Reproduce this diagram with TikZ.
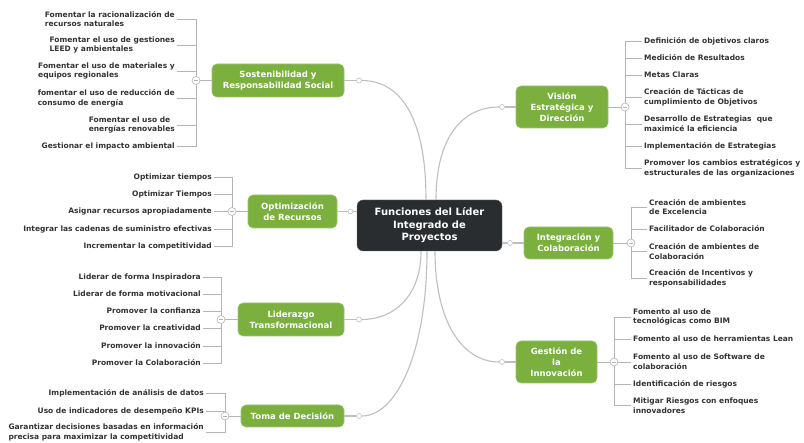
\documentclass[tikz,border=0pt]{standalone}
\usepackage{fontspec}
\setmainfont{DejaVu Sans}
\usetikzlibrary{calc}

\definecolor{leafgreen}{HTML}{7BB03F}
\definecolor{hubdark}{HTML}{2A2D30}
\definecolor{linkgray}{HTML}{BFBFBF}
\definecolor{twiggray}{HTML}{B4B4B4}
\definecolor{inkgray}{HTML}{333333}

\tikzset{
  hub/.style={fill=hubdark, draw=hubdark!70!white, rounded corners=6pt, text=white,
    font=\bfseries\fontsize{10}{12.5}\selectfont, align=center, inner sep=0pt},
  branch/.style={fill=leafgreen, draw=leafgreen!75!white, line width=0.6pt, rounded corners=5pt,
    text=white, font=\bfseries\fontsize{8.5}{10.8}\selectfont, align=center, inner sep=0pt,
    minimum height=33pt},
  knob/.style={circle, draw=linkgray, fill=white, inner sep=0pt, minimum size=5pt, line width=0.6pt},
  fold/.style={circle, draw=twiggray, fill=white, inner sep=0pt, minimum size=8pt, line width=0.6pt,
    path picture={\draw[twiggray, line width=0.8pt]
      ([xshift=-2pt]path picture bounding box.center) -- ([xshift=2pt]path picture bounding box.center);}},
  link/.style={draw=linkgray, line width=1.1pt},
  twig/.style={draw=twiggray, line width=0.8pt},
  leafL/.style={anchor=east, align=left, text=inkgray, font=\bfseries\fontsize{7.5}{9.8}\selectfont, inner sep=2pt},
  leafR/.style={leafL, anchor=west},
}

\begin{document}
\begin{tikzpicture}[x=1pt,y=-1pt]
\useasboundingbox[fill=white] (0,0) rectangle (804,443);

% centre
\node[hub, minimum width=145pt, minimum height=51pt] (hub) at (429.5,225.5) {Funciones del Líder\\Integrado de\\Proyectos};

% branch boxes
\node[branch, minimum width=132pt] (sost) at (278,80.5) {Sostenibilidad y\\Responsabilidad Social};
\node[branch, minimum width=89pt] (optim) at (292.5,211.5) {Optimización\\de Recursos};
\node[branch, minimum width=106pt] (lider) at (291,319.5) {Liderazgo\\Transformacional};
\node[branch, minimum width=103pt, minimum height=22pt] (toma) at (292.5,416) {Toma de Decisión};
\node[branch, minimum width=92pt, minimum height=42pt] (vis) at (562,107) {Visión\\Estratégica y\\Dirección};
\node[branch, minimum width=89pt, minimum height=32pt] (integ) at (568.5,243) {Integración y\\Colaboración};
\node[branch, minimum width=81pt, minimum height=42pt] (gest) at (556.5,362) {Gestión de\\la\\Innovación};

% links from the centre
\node[knob] (sost-k) at (359,80.5) {};
\node[knob] (optim-k) at (350.5,211.5) {};
\node[knob] (lider-k) at (359,319.5) {};
\node[knob] (toma-k) at (359,416) {};
\node[knob] (vis-k) at (502,107) {};
\node[knob] (integ-k) at (510,243) {};
\node[knob] (gest-k) at (502,362) {};

\draw[link] ([xshift=-3.5pt]hub.north) .. controls +(0,-85) and +(40,0) .. (sost-k);
\draw[link] ([xshift=6.5pt]hub.north) .. controls +(0,-65) and +(-38,0) .. (vis-k);
\draw[link] ([xshift=-8.5pt]hub.south) .. controls +(0,45) and +(35,0) .. (lider-k);
\draw[link] ([xshift=-2.5pt]hub.south) .. controls +(0,100) and +(38,0) .. (toma-k);
\draw[link] ([xshift=5.5pt]hub.south) .. controls +(0,70) and +(-40,0) .. (gest-k);
\draw[link] (hub.west |- optim-k) -- (optim-k);
\draw[link] (hub.east |- integ-k) -- (integ-k);
\foreach \b in {sost,optim,lider,toma,vis,integ,gest}
  \draw[link] (\b-k) -- (\b);

% Sostenibilidad
\coordinate (sost-j) at (196,80.5);
\draw[twig] (sost-j) -- (sost);
\foreach \y/\t [count=\i] in {19/{Fomentar la racionalización de\\recursos naturales},
    45/{Fomentar el uso de gestiones\\LEED y ambientales},
    71/{Fomentar el uso de materiales y\\equipos regionales},
    98/{fomentar el uso de reducción de\\consumo de energía},
    125/{Fomentar el uso de\\energías renovables},
    146/{Gestionar el impacto ambiental}} {
  \node[leafL] (sost-\i) at (177,\y) {\t};
  \draw[twig] (sost-\i.east) -- (sost-\i.east -| sost-j) -- (sost-j);
}
\node[fold] at (sost-j) {};

% Optimizacion
\coordinate (optim-j) at (232,211.5);
\draw[twig] (optim-j) -- (optim);
\foreach \y/\t [count=\i] in {177/{Optimizar tiempos},
    194/{Optimizar Tiempos},
    211/{Asignar recursos apropiadamente},
    229/{Integrar las cadenas de suministro efectivas},
    246/{Incrementar la competitividad}} {
  \node[leafL] (optim-\i) at (214,\y) {\t};
  \draw[twig] (optim-\i.east) -- (optim-\i.east -| optim-j) -- (optim-j);
}
\node[fold] at (optim-j) {};

% Liderazgo
\coordinate (lider-j) at (221,319.5);
\draw[twig] (lider-j) -- (lider);
\foreach \y/\t [count=\i] in {277/{Liderar de forma Inspiradora},
    294/{Liderar de forma motivacional},
    311/{Promover la confianza},
    328/{Promover la creatividad},
    346/{Promover la innovación},
    363/{Promover la Colaboración}} {
  \node[leafL] (lider-\i) at (203,\y) {\t};
  \draw[twig] (lider-\i.east) -- (lider-\i.east -| lider-j) -- (lider-j);
}
\node[fold] at (lider-j) {};

% Toma de decision
\coordinate (toma-j) at (225,416);
\draw[twig] (toma-j) -- (toma);
\foreach \y/\t [count=\i] in {393/{Implementación de análisis de datos},
    411/{Uso de indicadores de desempeño KPIs},
    432/{Garantizar decisiones basadas en información\\precisa para maximizar la competitividad}} {
  \node[leafL] (toma-\i) at (206,\y) {\t};
  \draw[twig] (toma-\i.east) -- (toma-\i.east -| toma-j) -- (toma-j);
}
\node[fold] at (toma-j) {};

% Vision
\coordinate (vis-j) at (625,107);
\draw[twig] (vis-j) -- (vis);
\foreach \y/\t [count=\i] in {41/{Definición de objetivos claros},
    58/{Medición de Resultados},
    75/{Metas Claras},
    97/{Creación de Tácticas de\\cumplimiento de Objetivos},
    124/{Desarrollo de Estrategias~ que\\maximicé la eficiencia},
    146/{Implementación de Estrategias},
    168/{Promover los cambios estratégicos y\\estructurales de las organizaciones}} {
  \node[leafR] (vis-\i) at (642,\y) {\t};
  \draw[twig] (vis-\i.west) -- (vis-\i.west -| vis-j) -- (vis-j);
}
\node[fold] at (vis-j) {};

% Integracion
\coordinate (integ-j) at (631,243);
\draw[twig] (integ-j) -- (integ);
\foreach \y/\t [count=\i] in {207/{Creación de ambientes\\de Excelencia},
    229/{Facilitador de Colaboración},
    251.5/{Creación de ambientes de\\Colaboración},
    278/{Creación de Incentivos y\\responsabilidades}} {
  \node[leafR] (integ-\i) at (647,\y) {\t};
  \draw[twig] (integ-\i.west) -- (integ-\i.west -| integ-j) -- (integ-j);
}
\node[fold] at (integ-j) {};

% Gestion
\coordinate (gest-j) at (614,362);
\draw[twig] (gest-j) -- (gest);
\foreach \y/\t [count=\i] in {317/{Fomento al uso de\\tecnológicas como BIM},
    339/{Fomento al uso de herramientas Lean},
    362/{Fomento al uso de Software de\\colaboración},
    384/{Identificación de riesgos},
    405.5/{Mitigar Riesgos con enfoques\\innovadores}} {
  \node[leafR] (gest-\i) at (631,\y) {\t};
  \draw[twig] (gest-\i.west) -- (gest-\i.west -| gest-j) -- (gest-j);
}
\node[fold] at (gest-j) {};

\end{tikzpicture}
\end{document}
